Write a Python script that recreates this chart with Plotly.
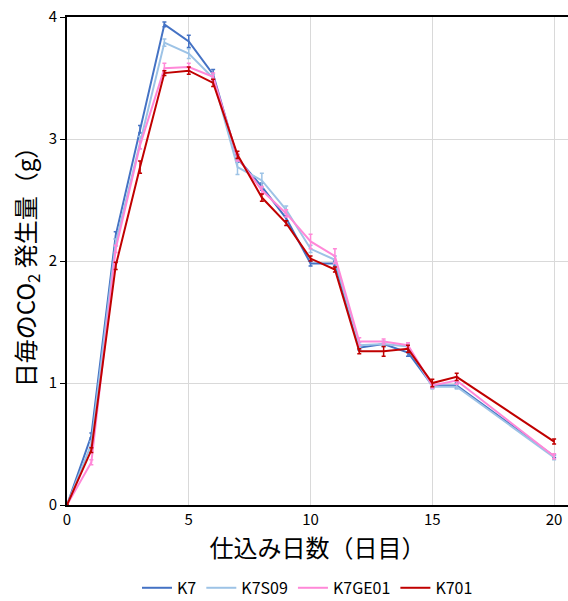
import plotly.graph_objects as go

days = [0, 1, 2, 3, 4, 5, 6, 7, 8, 9, 10, 11, 12, 13, 14, 15, 16, 20]

k7 = [0, 0.57, 2.21, 3.08, 3.94, 3.80, 3.53, 2.84, 2.61, 2.35, 1.98, 1.98, 1.29, 1.32, 1.25, 0.98, 0.98, 0.40]
k7_err = [0, 0.02, 0.03, 0.03, 0.02, 0.05, 0.04, 0.03, 0.03, 0.02, 0.02, 0.02, 0.02, 0.02, 0.03, 0.02, 0.02, 0.01]

k7s09 = [0, 0.50, 2.15, 2.97, 3.79, 3.70, 3.50, 2.77, 2.66, 2.42, 2.10, 2.01, 1.31, 1.32, 1.30, 0.97, 0.97, 0.39]
k7s09_err = [0, 0.02, 0.03, 0.05, 0.03, 0.04, 0.03, 0.06, 0.06, 0.03, 0.03, 0.03, 0.02, 0.02, 0.02, 0.02, 0.02, 0.02]

k7ge01 = [0, 0.35, 2.10, 2.95, 3.58, 3.59, 3.51, 2.85, 2.58, 2.39, 2.16, 2.04, 1.34, 1.34, 1.31, 0.98, 1.02, 0.40]
k7ge01_err = [0, 0.02, 0.03, 0.03, 0.04, 0.03, 0.03, 0.03, 0.03, 0.03, 0.06, 0.06, 0.03, 0.02, 0.02, 0.02, 0.03, 0.02]

k701 = [0, 0.45, 1.96, 2.77, 3.54, 3.56, 3.46, 2.87, 2.52, 2.31, 2.02, 1.93, 1.26, 1.26, 1.28, 1.00, 1.05, 0.52]
k701_err = [0, 0.02, 0.03, 0.05, 0.02, 0.03, 0.03, 0.03, 0.03, 0.02, 0.02, 0.02, 0.02, 0.04, 0.03, 0.03, 0.03, 0.02]

series = [
    ("K7", k7, k7_err, "#4472C4"),
    ("K7S09", k7s09, k7s09_err, "#9DC3E6"),
    ("K7GE01", k7ge01, k7ge01_err, "#FF88D8"),
    ("K701", k701, k701_err, "#C00000"),
]

font_family = "Noto Sans CJK JP"

fig = go.Figure()
for name, vals, errs, color in series:
    fig.add_trace(go.Scatter(
        x=days, y=vals, name=name, mode="lines",
        line=dict(color=color, width=2),
        error_y=dict(type="data", array=errs, visible=True, color=color,
                     thickness=1.5, width=2),
    ))

fig.update_layout(
    width=568, height=601,
    margin=dict(l=67, r=0, t=17, b=96, autoexpand=False),
    paper_bgcolor="white", plot_bgcolor="white",
    font=dict(family=font_family, color="black"),
    showlegend=True,
    legend=dict(orientation="h", x=0.48, xanchor="center", y=-0.135, yanchor="top",
                font=dict(size=16, family=font_family), itemwidth=30,
                tracegroupgap=0),
)
fig.update_xaxes(
    range=[0, 20.57], tickvals=[0, 5, 10, 15, 20],
    showgrid=True, gridcolor="#D9D9D9", gridwidth=1,
    showline=True, linecolor="black", linewidth=2, mirror=True,
    ticks="", zeroline=False, automargin=False,
    tickfont=dict(size=15, family=font_family),
    title=dict(text="仕込み日数（日目）", font=dict(size=24, family=font_family), standoff=4),
)
fig.update_yaxes(
    range=[0, 4], tickvals=[0, 1, 2, 3, 4],
    showgrid=True, gridcolor="#D9D9D9", gridwidth=1,
    showline=True, linecolor="black", linewidth=2,
    ticks="outside", ticklen=5, tickcolor="black",
    zeroline=False, automargin=False,
    tickfont=dict(size=15, family=font_family),
    title=dict(text="日毎のCO<sub>2</sub> 発生量（g）", font=dict(size=24, family=font_family), standoff=6),
)

fig.write_html("out.html", config={"displayModeBar": False},
               post_script="document.body.style.margin='0';document.body.style.overflow='hidden';")
